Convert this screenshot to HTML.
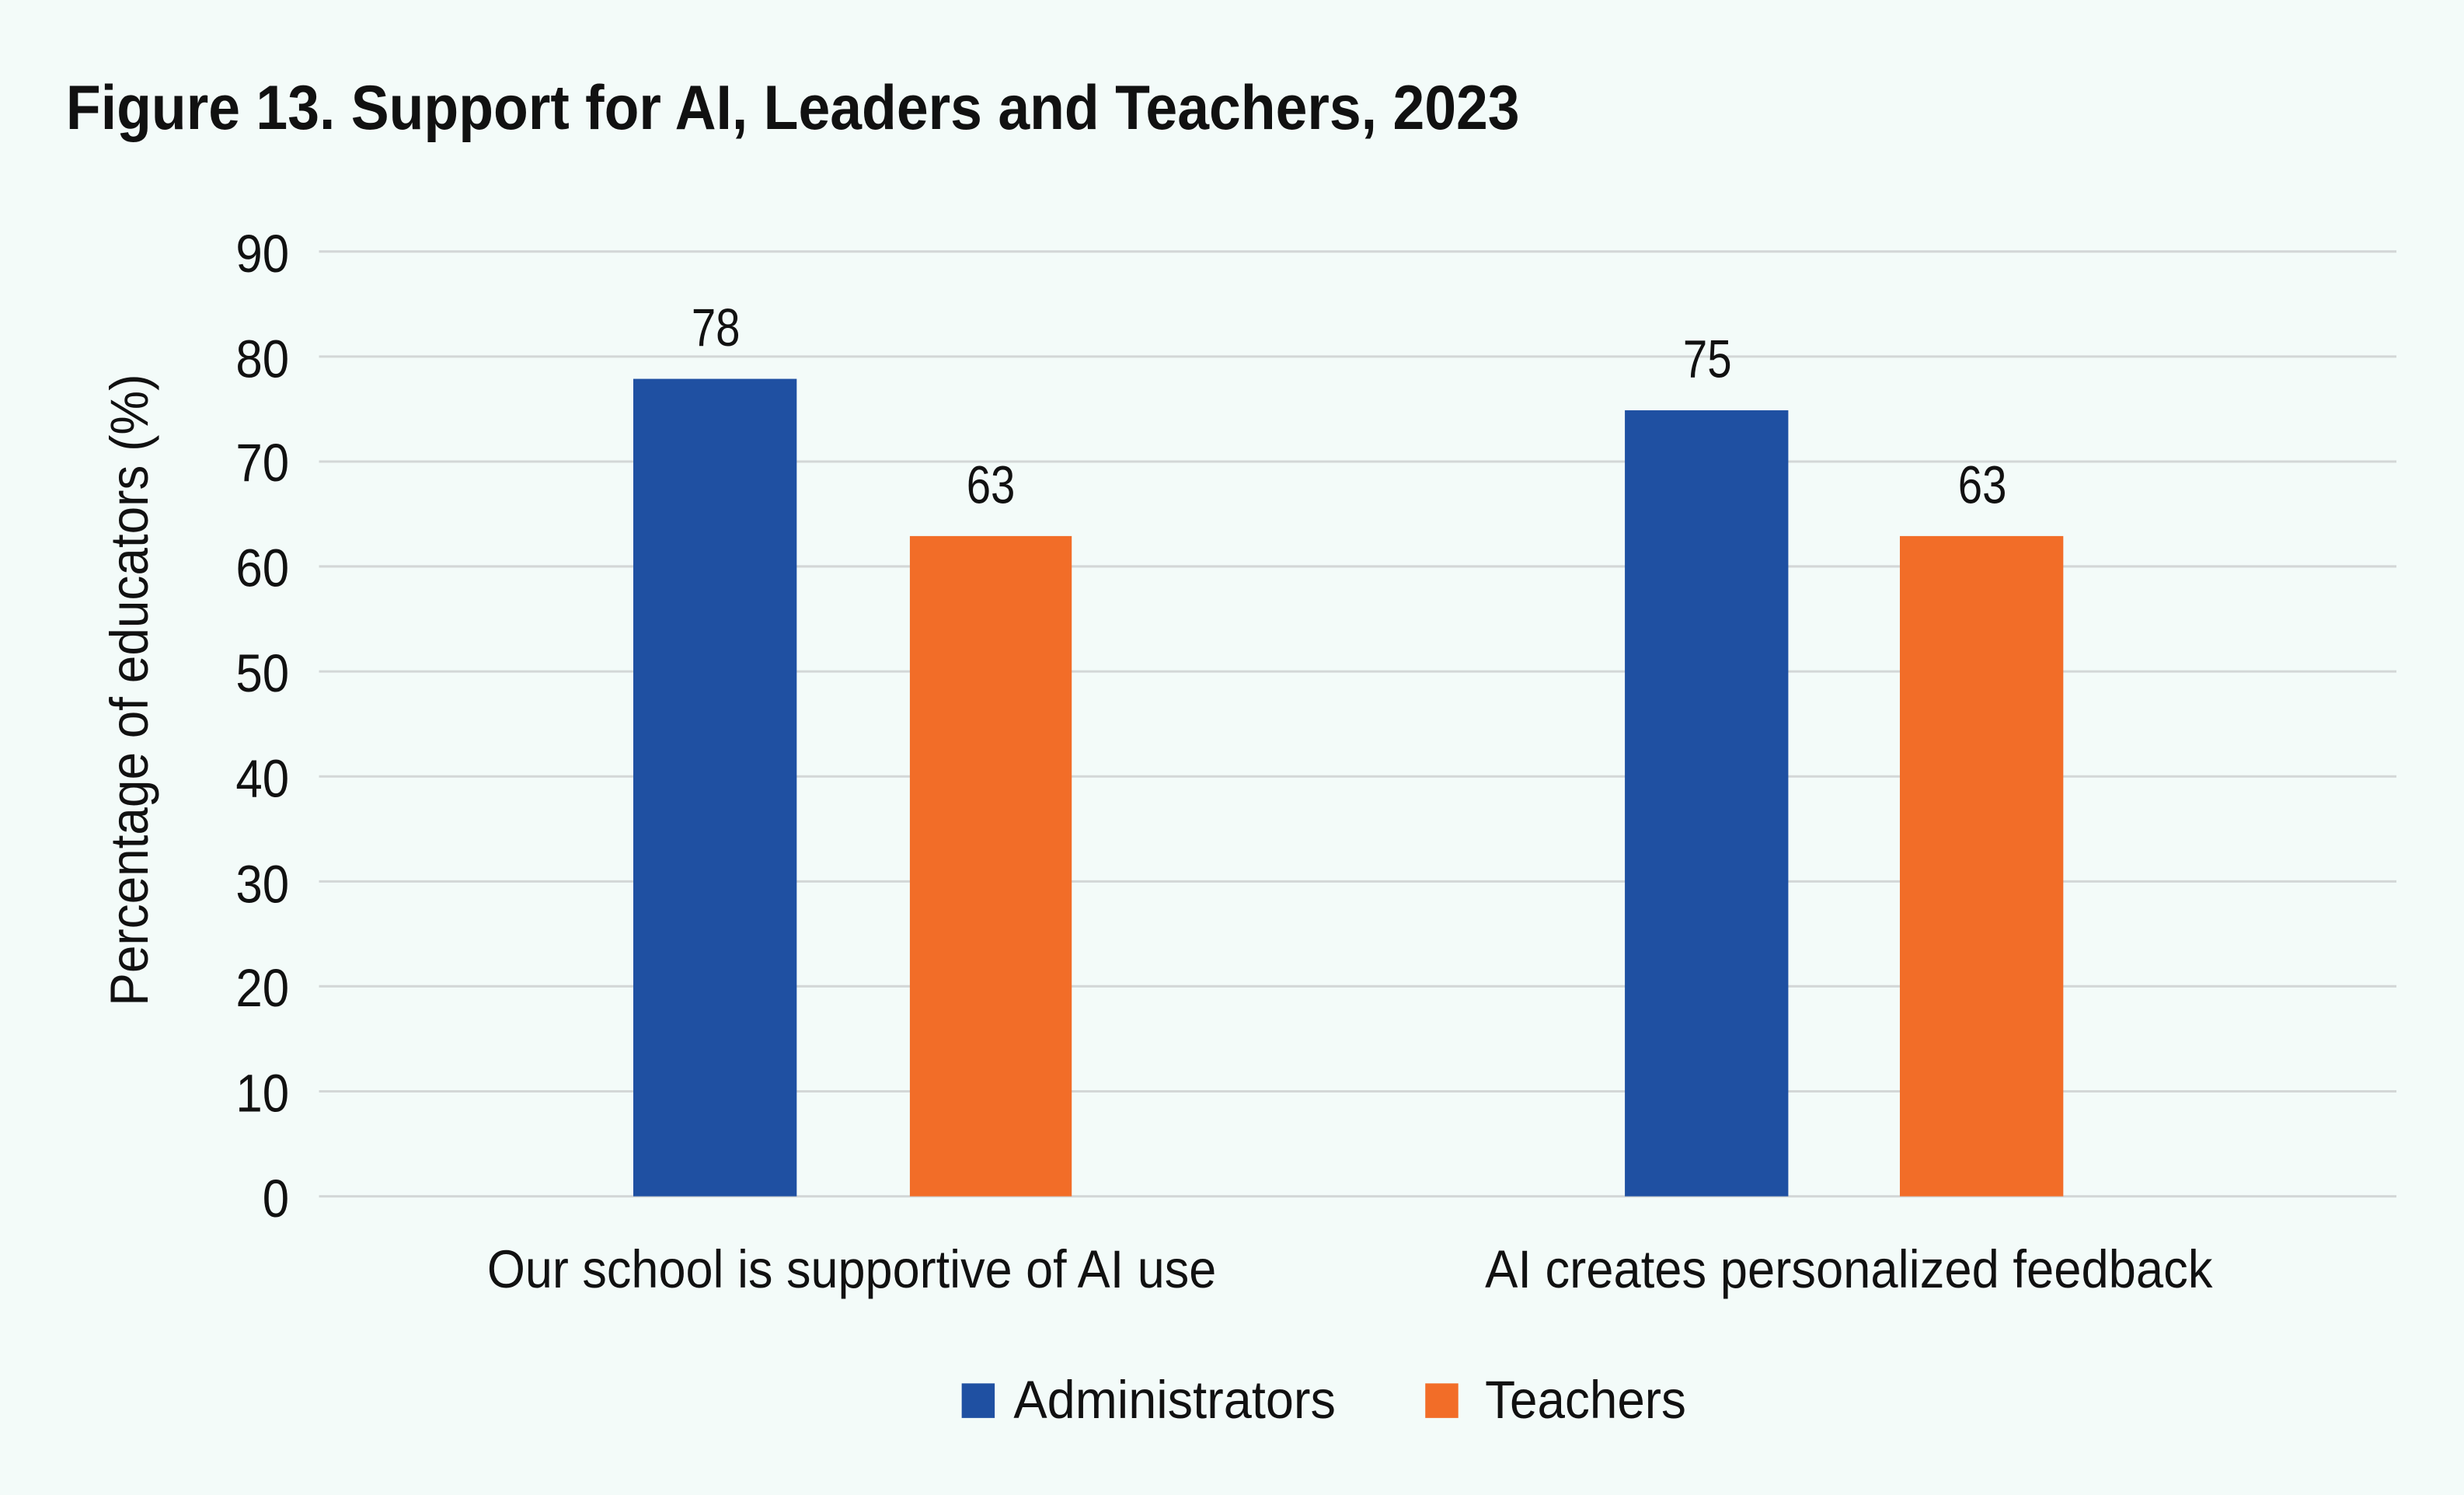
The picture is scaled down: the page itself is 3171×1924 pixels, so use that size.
<!DOCTYPE html>
<html><head><meta charset="utf-8"><style>
html,body{margin:0;padding:0;background:#f3fbf9;}
svg{display:block;}
text{font-family:"Liberation Sans Narrow","Liberation Sans",sans-serif;fill:#111;}
</style></head><body>
<svg width="3171" height="1924" viewBox="0 0 1568 951" preserveAspectRatio="none" xmlns="http://www.w3.org/2000/svg">
<rect width="1568" height="951" fill="#f3fbf9"/>
<text x="42" y="82" font-size="40" font-weight="bold" textLength="925" lengthAdjust="spacingAndGlyphs">Figure 13. Support for AI, Leaders and Teachers, 2023</text>
<g stroke="#d3d7d7" stroke-width="1.5">
<line x1="203" x2="1525" y1="160" y2="160"/>
<line x1="203" x2="1525" y1="226.8" y2="226.8"/>
<line x1="203" x2="1525" y1="293.6" y2="293.6"/>
<line x1="203" x2="1525" y1="360.3" y2="360.3"/>
<line x1="203" x2="1525" y1="427.1" y2="427.1"/>
<line x1="203" x2="1525" y1="493.9" y2="493.9"/>
<line x1="203" x2="1525" y1="560.7" y2="560.7"/>
<line x1="203" x2="1525" y1="627.4" y2="627.4"/>
<line x1="203" x2="1525" y1="694.2" y2="694.2"/>
<line x1="203" x2="1525" y1="761" y2="761"/>
</g>
<g font-size="34">
<text x="150" y="173" textLength="34" lengthAdjust="spacingAndGlyphs">90</text>
<text x="150" y="240" textLength="34" lengthAdjust="spacingAndGlyphs">80</text>
<text x="150" y="306" textLength="34" lengthAdjust="spacingAndGlyphs">70</text>
<text x="150" y="373" textLength="34" lengthAdjust="spacingAndGlyphs">60</text>
<text x="150" y="440" textLength="34" lengthAdjust="spacingAndGlyphs">50</text>
<text x="150" y="507" textLength="34" lengthAdjust="spacingAndGlyphs">40</text>
<text x="150" y="574" textLength="34" lengthAdjust="spacingAndGlyphs">30</text>
<text x="150" y="640" textLength="34" lengthAdjust="spacingAndGlyphs">20</text>
<text x="150" y="707" textLength="34" lengthAdjust="spacingAndGlyphs">10</text>
<text x="167" y="774" textLength="17" lengthAdjust="spacingAndGlyphs">0</text>
</g>
<text transform="translate(94,440) rotate(-90)" x="-200" y="0" font-size="34" textLength="402" lengthAdjust="spacingAndGlyphs">Percentage of educators (%)</text>
<rect x="403" y="241" width="104" height="520" fill="#1f50a2"/>
<rect x="579" y="341" width="103" height="420" fill="#f26d28"/>
<rect x="1034" y="261" width="104" height="500" fill="#1f50a2"/>
<rect x="1209" y="341" width="104" height="420" fill="#f26d28"/>
<g font-size="34">
<text x="440" y="220" textLength="31" lengthAdjust="spacingAndGlyphs">78</text>
<text x="615" y="320" textLength="31" lengthAdjust="spacingAndGlyphs">63</text>
<text x="1071" y="240" textLength="31" lengthAdjust="spacingAndGlyphs">75</text>
<text x="1246" y="320" textLength="31" lengthAdjust="spacingAndGlyphs">63</text>
<text x="310" y="819" textLength="464" lengthAdjust="spacingAndGlyphs">Our school is supportive of AI use</text>
<text x="945" y="819" textLength="463" lengthAdjust="spacingAndGlyphs">AI creates personalized feedback</text>
</g>
<rect x="612" y="880" width="21" height="22" fill="#1f50a2"/>
<text x="645" y="902" font-size="34" textLength="205" lengthAdjust="spacingAndGlyphs">Administrators</text>
<rect x="907" y="880" width="21" height="22" fill="#f26d28"/>
<text x="945" y="902" font-size="34" textLength="128" lengthAdjust="spacingAndGlyphs">Teachers</text>
</svg>
</body></html>
